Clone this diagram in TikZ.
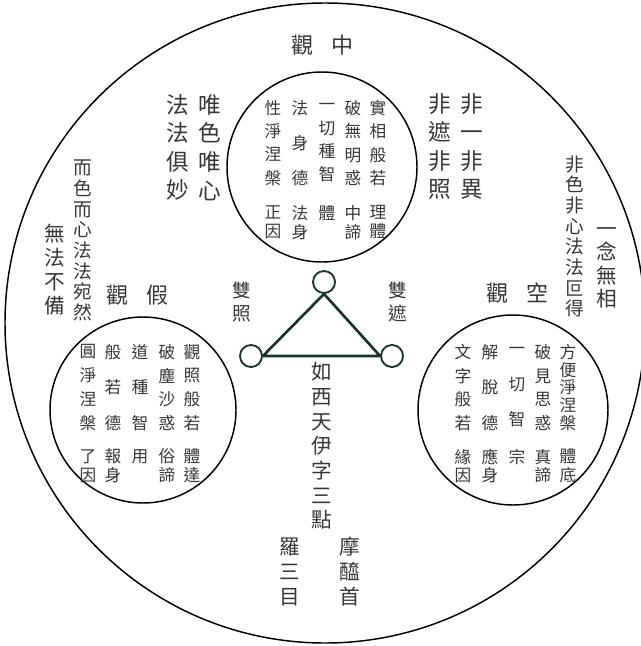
\documentclass[tikz,border=0pt]{standalone}
\usepackage{fontspec}
\usepackage{xcolor}
\newfontfamily\cjk{Noto Sans CJK TC}
\definecolor{ink}{RGB}{55,55,55}
\definecolor{trigreen}{RGB}{28,52,40}
\newcommand\vfont[2]{\cjk\fontsize{#1}{#2}\selectfont}

\begin{document}
\begin{tikzpicture}[x=0.75pt,y=0.75pt,yscale=-1,xscale=1,
    ring/.style={draw=black,line width=1.1pt},
    dot/.style={circle,draw=trigreen,line width=1.4pt,minimum size=16.5pt,inner sep=0pt},
    word/.style={text=ink,align=center,inner sep=0pt}]
            \useasboundingbox (0,0) rectangle (641,646); %set diagram size to 641 x 646

            %Shape: Circle outer
            \draw [ring] (325,323) circle (320) ;
            %Shape: Circle middle (top)
            \draw [ring] (322,167) circle (95) ;
            %Shape: Circle false (left)
            \draw [ring] (143,410) circle (93) ;
            %Shape: Circle empty (right)
            \draw [ring] (513,410) circle (95) ;

            %Shape: small circles of the triangle
            \node [dot] (dtop) at (324,282) {};
            \node [dot] (dleft) at (251,356) {};
            \node [dot] (dright) at (392,356) {};
            %Straight Lines triangle
            \draw [trigreen,line width=2pt,line join=round] (dtop.south) -- (dleft.east) -- (dright.west) -- cycle ;

            % Text Node
            \node [word,font=\vfont{16.5}{20}] (kmid) at (322.5,45) {觀\hspace{14pt}中};
            % Text Node
            \node [word,font=\vfont{16.5}{20}] (kjia) at (137.5,295) {觀\hspace{13pt}假};
            % Text Node
            \node [word,font=\vfont{16.5}{20}] (kkong) at (517,293) {觀\hspace{13.5pt}空};

            % Text Node (top circle)
            \node [word,font=\vfont{12.5}{17.5}] (tc1) at (378,143) {實\\相\\般\\若};
            \node [word,font=\vfont{12.5}{14.25}] (tc1b) at (378,222.5) {理\\體};
            \node [word,font=\vfont{12.5}{17.5}] (tc2) at (353,143) {破\\無\\明\\惑};
            \node [word,font=\vfont{12.5}{14.25}] (tc2b) at (353,222.5) {中\\諦};
            \node [word,font=\vfont{12.5}{17.5}] (tc3) at (327,143) {一\\切\\種\\智};
            \node [word,font=\vfont{12.5}{14.25}] (tc3b) at (327,213) {體};
            \node [word,font=\vfont{12.5}{26.25}] (tc4) at (300,143) {法\\身\\德};
            \node [word,font=\vfont{12.5}{14.25}] (tc4b) at (300,222.5) {法\\身};
            \node [word,font=\vfont{12.5}{17.5}] (tc5) at (273,143) {性\\淨\\涅\\槃};
            \node [word,font=\vfont{12.5}{14.25}] (tc5b) at (273,222.5) {正\\因};

            % Text Node (left circle)
            \node [word,font=\vfont{12.5}{17.8}] (lc1) at (192,387.5) {觀\\照\\般\\若};
            \node [word,font=\vfont{12.5}{14}] (lc1b) at (192,466) {體\\達};
            \node [word,font=\vfont{12.5}{17.8}] (lc2) at (167,387.5) {破\\塵\\沙\\惑};
            \node [word,font=\vfont{12.5}{14}] (lc2b) at (167,466) {俗\\諦};
            \node [word,font=\vfont{12.5}{26.6}] (lc3) at (140,387.5) {道\\種\\智};
            \node [word,font=\vfont{12.5}{14}] (lc3b) at (140,457) {用};
            \node [word,font=\vfont{12.5}{26.6}] (lc4) at (113,387.5) {般\\若\\德};
            \node [word,font=\vfont{12.5}{14}] (lc4b) at (113,466) {報\\身};
            \node [word,font=\vfont{12.5}{17.8}] (lc5) at (88,387.5) {圓\\淨\\涅\\槃};
            \node [word,font=\vfont{12.5}{14}] (lc5b) at (88,466) {了\\因};

            % Text Node (right circle)
            \node [word,font=\vfont{12.5}{13.3}] (rc1) at (568,387.5) {方\\便\\淨\\涅\\槃};
            \node [word,font=\vfont{12.5}{14}] (rc1b) at (568,466) {體\\底};
            \node [word,font=\vfont{12.5}{17.8}] (rc2) at (543,387.5) {破\\見\\思\\惑};
            \node [word,font=\vfont{12.5}{14}] (rc2b) at (543,466) {真\\諦};
            \node [word,font=\vfont{12.5}{26.6}] (rc3) at (517,387.5) {一\\切\\智};
            \node [word,font=\vfont{12.5}{14}] (rc3b) at (517,457) {宗};
            \node [word,font=\vfont{12.5}{26.6}] (rc4) at (490,387.5) {解\\脫\\德};
            \node [word,font=\vfont{12.5}{14}] (rc4b) at (490,466) {應\\身};
            \node [word,font=\vfont{12.5}{17.8}] (rc5) at (463,387.5) {文\\字\\般\\若};
            \node [word,font=\vfont{12.5}{14}] (rc5b) at (463,466) {緣\\因};

            % Text Node (left side)
            \node [word,font=\vfont{17}{21.4}] (wxwx) at (210,147.5) {唯\\色\\唯\\心};
            \node [word,font=\vfont{17}{21.4}] (ffjm) at (178,147.5) {法\\法\\俱\\妙};
            \node [word,font=\vfont{14}{15.5}] (eser) at (83,240.5) {而\\色\\而\\心\\法\\法\\宛\\然};
            \node [word,font=\vfont{15.5}{18}] (wfbb) at (55,269.5) {無\\法\\不\\備};

            % Text Node (right side)
            \node [word,font=\vfont{17}{21.4}] (fyfy) at (472,146.5) {非\\一\\非\\異};
            \node [word,font=\vfont{17}{21.4}] (fzfz) at (440,146.5) {非\\遮\\非\\照};
            \node [word,font=\vfont{14}{15.5}] (fsfx) at (575,236.5) {非\\色\\非\\心\\法\\法\\叵\\得};
            \node [word,font=\vfont{15.5}{17.5}] (ynwx) at (607,268) {一\\念\\無\\相};

            % Text Node (triangle)
            \node [word,font=\vfont{14}{17.25}] (szhao) at (242,301.5) {雙\\照};
            \node [word,font=\vfont{14}{17.25}] (szhe) at (398,301.5) {雙\\遮};
            \node [word,font=\vfont{15.5}{18.5}] (ruxi) at (322,446) {如\\西\\天\\伊\\字\\三\\點};
            \node [word,font=\vfont{15.5}{18.75}] (luo) at (290,572) {羅\\三\\目};
            \node [word,font=\vfont{15.5}{18.75}] (mo) at (350,572) {摩\\醯\\首};

\end{tikzpicture}
\end{document}
